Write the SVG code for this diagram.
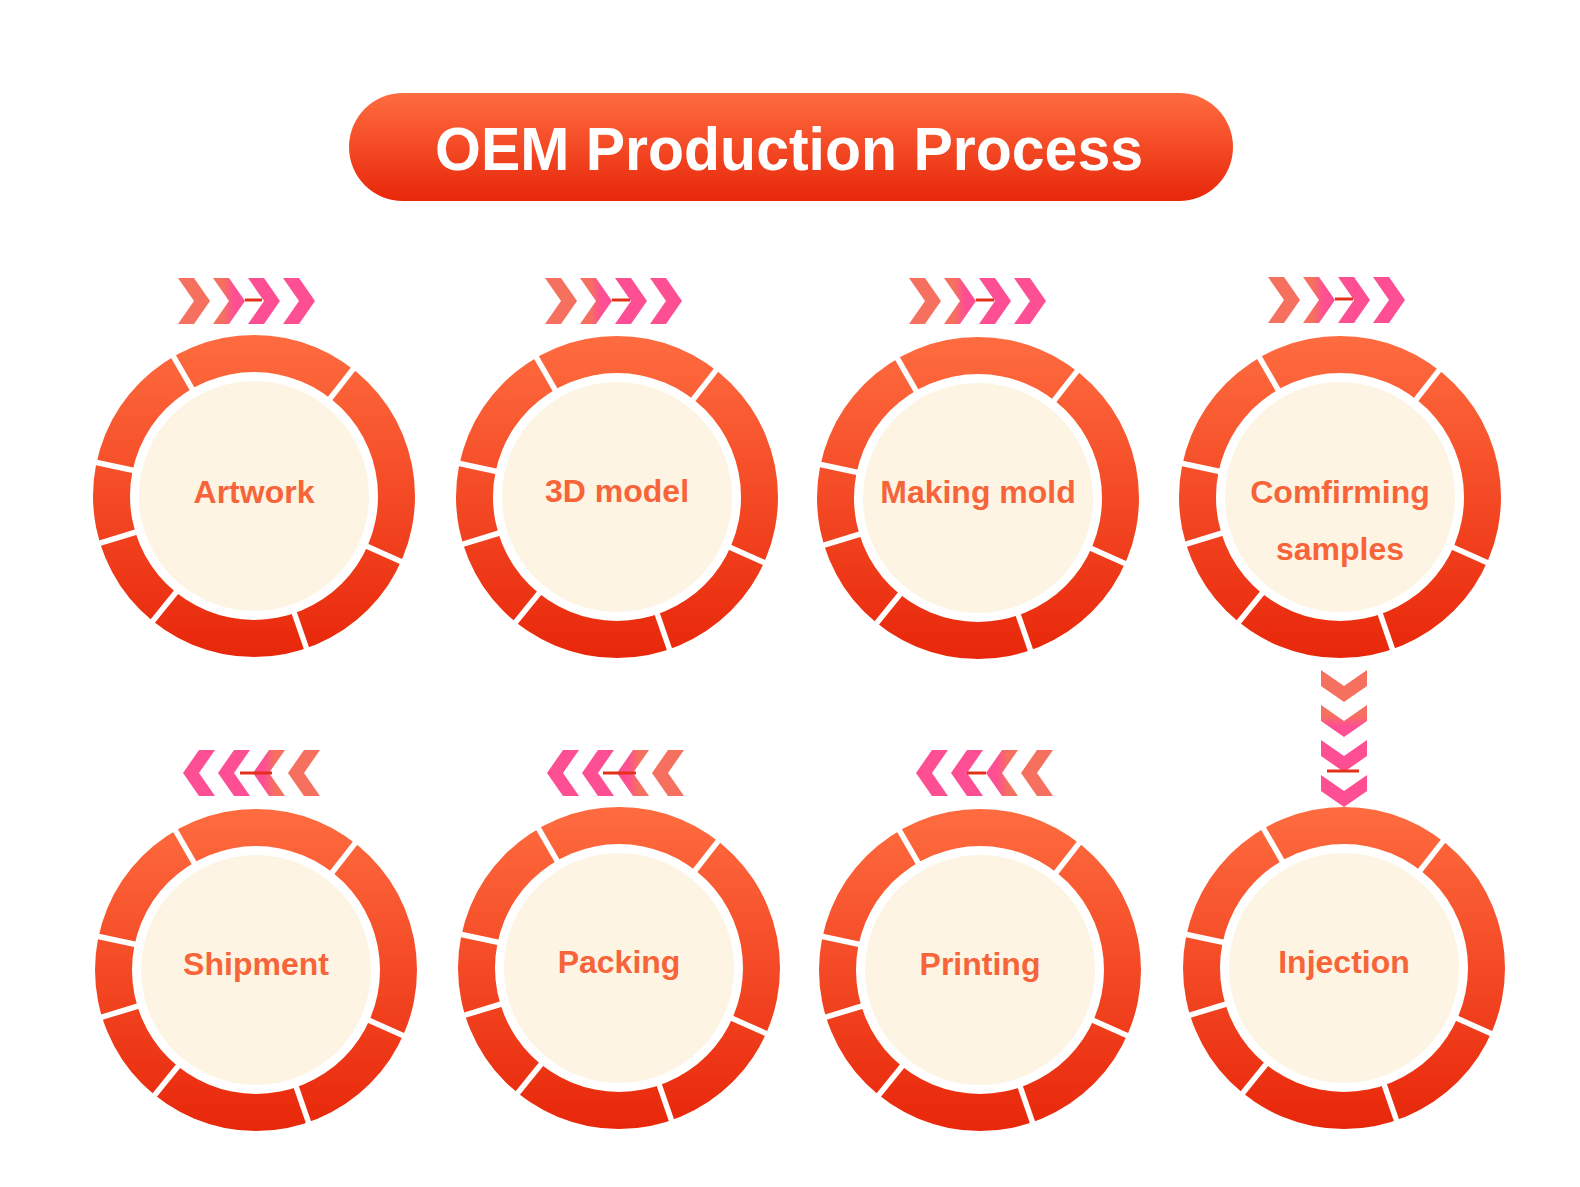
<svg xmlns="http://www.w3.org/2000/svg" width="1580" height="1187" viewBox="0 0 1580 1187">
<style>
.label{font-family:"Liberation Sans",Arial,sans-serif;font-weight:700;font-size:32px;fill:#F7643A;text-anchor:middle}
.title{font-family:"Liberation Sans",Arial,sans-serif;font-weight:700;font-size:62px;fill:#FFFFFF;text-anchor:middle}
.core{fill:#FDF4E3}
.divider{stroke:#FFFFFF;stroke-width:5.5}
.dash{stroke:#E2301A;stroke-width:3}
</style>
<defs>
<linearGradient id="redGrad" x1="0" y1="0" x2="0" y2="1">
<stop offset="0" stop-color="#FF6C40"/>
<stop offset="1" stop-color="#E8270A"/>
</linearGradient>
<linearGradient id="chevGrad" gradientUnits="userSpaceOnUse" x1="0" y1="0" x2="137" y2="0">
<stop offset="0.33" stop-color="#F6705F"/>
<stop offset="0.41" stop-color="#FE4F94"/>
</linearGradient>
<g id="ring">
<path fill="url(#redGrad)" fill-rule="evenodd" d="M-161,0 a161,161 0 1,0 322,0 a161,161 0 1,0 -322,0 Z M-124,0 a124,124 0 1,0 248,0 a124,124 0 1,0 -248,0 Z"/>
<g class="divider">
<line x1="-59" y1="-102.2" x2="-83.5" y2="-144.6"/>
<line x1="72.6" y1="-93" x2="102.8" y2="-131.6"/>
<line x1="107.8" y1="48" x2="152.6" y2="67.9"/>
<line x1="38.4" y1="111.6" x2="54.4" y2="157.9"/>
<line x1="-74.3" y1="91.7" x2="-105.1" y2="129.8"/>
<line x1="-112.8" y1="34.5" x2="-159.7" y2="48.8"/>
<line x1="-115.4" y1="-24.5" x2="-163.3" y2="-34.7"/>
</g>
</g>
<g id="chevR" fill="url(#chevGrad)">
<polygon points="0,0 16,0 32,23 16,46 0,46 16,23"/>
<polygon points="35,0 51,0 67,23 51,46 35,46 51,23"/>
<polygon points="70,0 86,0 102,23 86,46 70,46 86,23"/>
<polygon points="105,0 121,0 137,23 121,46 105,46 121,23"/>
</g>
</defs>

<g id="title">
<rect x="349" y="93" width="884" height="108" rx="54" fill="url(#redGrad)"/>
<text class="title" x="789" y="170" textLength="708" lengthAdjust="spacingAndGlyphs">OEM Production Process</text>
</g>

<g id="connectors">
<use href="#chevR" transform="translate(178,278)"/>
<line class="dash" x1="245" y1="300" x2="262" y2="300"/>
<use href="#chevR" transform="translate(545,278)"/>
<line class="dash" x1="612" y1="300" x2="630" y2="300"/>
<use href="#chevR" transform="translate(909,278)"/>
<line class="dash" x1="976" y1="300" x2="994" y2="300"/>
<use href="#chevR" transform="translate(1268,277)"/>
<line class="dash" x1="1335" y1="299" x2="1353" y2="299"/>
<use href="#chevR" transform="translate(1367,670) rotate(90)"/>
<line class="dash" x1="1327" y1="771" x2="1359" y2="771"/>
<use href="#chevR" transform="translate(1053,750) scale(-1,1)"/>
<line class="dash" x1="967" y1="773" x2="986" y2="773"/>
<use href="#chevR" transform="translate(684,750) scale(-1,1)"/>
<line class="dash" x1="603" y1="773" x2="636" y2="773"/>
<use href="#chevR" transform="translate(320,750) scale(-1,1)"/>
<line class="dash" x1="240" y1="773" x2="272" y2="773"/>
</g>

<g id="node-artwork" transform="translate(254,496)">
<use href="#ring"/>
<circle class="core" r="115"/>
<text class="label" x="0" y="7">Artwork</text>
</g>
<g id="node-3d-model" transform="translate(617,497)">
<use href="#ring"/>
<circle class="core" r="115"/>
<text class="label" x="0" y="5">3D model</text>
</g>
<g id="node-making-mold" transform="translate(978,498)">
<use href="#ring"/>
<circle class="core" r="115"/>
<text class="label" x="0" y="5">Making mold</text>
</g>
<g id="node-confirming-samples" transform="translate(1340,497)">
<use href="#ring"/>
<circle class="core" r="115"/>
<text class="label" x="0" y="6">Comfirming</text>
<text class="label" x="0" y="63">samples</text>
</g>
<g id="node-injection" transform="translate(1344,968)">
<use href="#ring"/>
<circle class="core" r="115"/>
<text class="label" x="0" y="5">Injection</text>
</g>
<g id="node-printing" transform="translate(980,970)">
<use href="#ring"/>
<circle class="core" r="115"/>
<text class="label" x="0" y="5">Printing</text>
</g>
<g id="node-packing" transform="translate(619,968)">
<use href="#ring"/>
<circle class="core" r="115"/>
<text class="label" x="0" y="5">Packing</text>
</g>
<g id="node-shipment" transform="translate(256,970)">
<use href="#ring"/>
<circle class="core" r="115"/>
<text class="label" x="0" y="5">Shipment</text>
</g>
</svg>
